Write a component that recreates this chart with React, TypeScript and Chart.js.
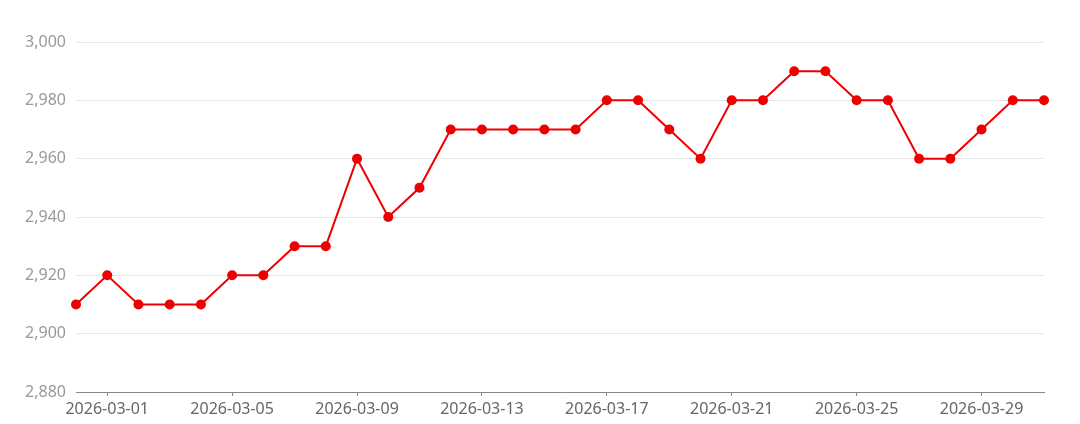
import React, { useEffect, useRef } from "react";
import { Chart, registerables } from "chart.js";

Chart.register(...registerables);

const dates: string[] = [
  "2026-02-28", "2026-03-01", "2026-03-02", "2026-03-03", "2026-03-04", "2026-03-05",
  "2026-03-06", "2026-03-07", "2026-03-08", "2026-03-09", "2026-03-10", "2026-03-11",
  "2026-03-12", "2026-03-13", "2026-03-14", "2026-03-15", "2026-03-16", "2026-03-17",
  "2026-03-18", "2026-03-19", "2026-03-20", "2026-03-21", "2026-03-22", "2026-03-23",
  "2026-03-24", "2026-03-25", "2026-03-26", "2026-03-27", "2026-03-28", "2026-03-29",
  "2026-03-30", "2026-03-31",
];

const prices: number[] = [
  2910, 2920, 2910, 2910, 2910, 2920,
  2920, 2930, 2930, 2960, 2940, 2950,
  2970, 2970, 2970, 2970, 2970, 2980,
  2980, 2970, 2960, 2980, 2980, 2990,
  2990, 2980, 2980, 2960, 2960, 2970,
  2980, 2980,
];

const shownLabels: string[] = [
  "2026-03-01", "2026-03-05", "2026-03-09", "2026-03-13",
  "2026-03-17", "2026-03-21", "2026-03-25", "2026-03-29",
];

const yMin = 2880;
const yMax = 3000;
const yStep = 20;

const FONT = "'Noto Sans', 'Noto Sans CJK SC', sans-serif";

export default function App() {
  const ref = useRef<HTMLCanvasElement | null>(null);

  useEffect(() => {
    document.body.style.margin = "0";
    const canvas = ref.current;
    if (!canvas) return;
    const chart = new Chart(canvas, {
      type: "line",
      data: {
        labels: dates,
        datasets: [
          {
            data: prices,
            borderColor: "#ee0000",
            backgroundColor: "#ee0000",
            borderWidth: 2,
            pointRadius: 5,
            pointHoverRadius: 5,
            pointBackgroundColor: "#ee0000",
            pointBorderColor: "#ee0000",
            pointBorderWidth: 0,
            tension: 0,
          },
        ],
      },
      options: {
        animation: false,
        responsive: false,
        maintainAspectRatio: false,
        layout: { padding: { top: 42, right: 36, left: 0, bottom: 0 } },
        plugins: {
          legend: { display: false },
          tooltip: { enabled: false },
        },
        scales: {
          x: {
            type: "category",
            offset: false,
            afterFit: (s: any) => {
              s.height = 32;
            },
            border: { display: true, color: "#888888", width: 1 },
            grid: {
              drawOnChartArea: false,
              drawTicks: true,
              tickLength: 4,
              color: "#888888",
            },
            ticks: {
              autoSkip: false,
              maxRotation: 0,
              padding: 4,
              color: "#666666",
              font: { family: FONT, size: 16 },
              callback: function (this: any, value: any) {
                const lbl = dates[value as number];
                return shownLabels.includes(lbl) ? lbl : null;
              },
            },
          },
          y: {
            min: yMin,
            max: yMax,
            afterFit: (s: any) => {
              s.width = 76;
            },
            border: { display: false },
            grid: {
              color: "#e6e6e6",
              drawTicks: false,
              lineWidth: 1,
            },
            ticks: {
              stepSize: yStep,
              padding: 10,
              color: "#999999",
              font: { family: FONT, size: 16 },
              callback: (v: any) => Number(v).toLocaleString("en-US"),
            },
          },
        },
      },
    } as any);
    return () => chart.destroy();
  }, []);

  return (
    <div style={{ width: 1080, height: 424 }}>
      <canvas ref={ref} width={1080} height={424} style={{ display: "block" }} />
    </div>
  );
}
